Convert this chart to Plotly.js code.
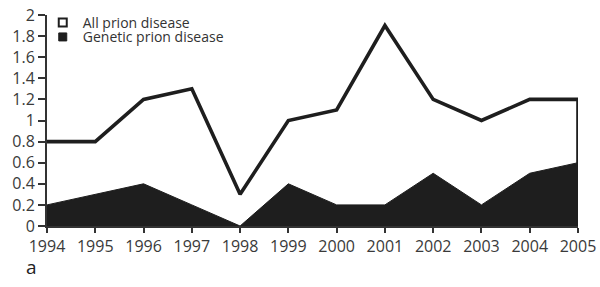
<!DOCTYPE html>
<html><head><meta charset="utf-8">
<script src="https://cdn.plot.ly/plotly-3.0.1.min.js"></script>
<style>body{margin:0;background:#fff}#c{width:600px;height:287px}</style>
</head><body><div id="c"></div>
<script>
const years = [1994,1995,1996,1997,1998,1999,2000,2001,2002,2003,2004,2005];
const allPrion = [0.8,0.8,1.2,1.3,0.3,1.0,1.1,1.9,1.2,1.0,1.2,1.2];
const geneticPrion = [0.2,0.3,0.4,0.2,0.0,0.4,0.2,0.2,0.5,0.2,0.5,0.6];
const yTicks = [0,0.2,0.4,0.6,0.8,1,1.2,1.4,1.6,1.8,2];
const yTickText = ['0','0.2','0.4','0.6','0.8','1','1.2','1.4','1.6','1.8','2'];
const seriesNames = ['All prion disease','Genetic prion disease'];

const last = years.length - 1;
const fontFam = 'Open Sans, sans-serif';
const ink = '#1e1e1e';
const traces = [
  {x: years.concat([years[last]]), y: allPrion.concat([0]), type:'scatter', mode:'lines',
   fill:'tozeroy', fillcolor:'#ffffff', line:{color:ink, width:3.6}, showlegend:false, hoverinfo:'skip'},
  {x: years, y: geneticPrion, type:'scatter', mode:'lines',
   fill:'tozeroy', fillcolor:ink, line:{color:ink, width:1}, showlegend:false, hoverinfo:'skip'},
  {x:[null], y:[null], type:'scatter', mode:'markers', name:seriesNames[0], legend:'legend',
   marker:{symbol:'square', size:8, color:'#ffffff', line:{color:ink, width:2}}},
  {x:[null], y:[null], type:'scatter', mode:'markers', name:seriesNames[1], legend:'legend2',
   marker:{symbol:'square', size:8, color:ink, line:{color:ink, width:1}}}
];
const legStyle = {xanchor:'left', yanchor:'top', bgcolor:'rgba(0,0,0,0)',
  font:{family:fontFam, size:14, color:'#333'}};
const layout = {
  width:600, height:287,
  margin:{l:47, r:22, t:15, b:61, autoexpand:false},
  paper_bgcolor:'#fff', plot_bgcolor:'#fff',
  font:{family:fontFam, size:16, color:'#3a3a3a'},
  showlegend:true,
  legend:Object.assign({x:-0.008, y:1.038}, legStyle),
  legend2:Object.assign({x:-0.008, y:0.970}, legStyle),
  xaxis:{range:[1994,2005], tickvals:years, ticks:'outside', ticklen:5, tickwidth:2,
    tickcolor:'#333', showline:true, linecolor:'#333', linewidth:2, showgrid:false,
    zeroline:false, tickfont:{size:16}, fixedrange:true, automargin:false},
  yaxis:{range:[0,2], tickvals:yTicks, ticktext:yTickText, ticks:'outside', ticklen:7,
    tickwidth:2, tickcolor:'#333', showline:true, linecolor:'#333', linewidth:2,
    showgrid:false, zeroline:false, tickfont:{size:16}, fixedrange:true, automargin:false},
  annotations:[{text:'a', xref:'paper', yref:'paper', x:-0.043, y:-0.123, xanchor:'left',
    yanchor:'top', showarrow:false, font:{family:fontFam, size:19, color:'#222'}}]
};
Plotly.newPlot('c', traces, layout, {displayModeBar:false, staticPlot:true});
</script></body></html>
